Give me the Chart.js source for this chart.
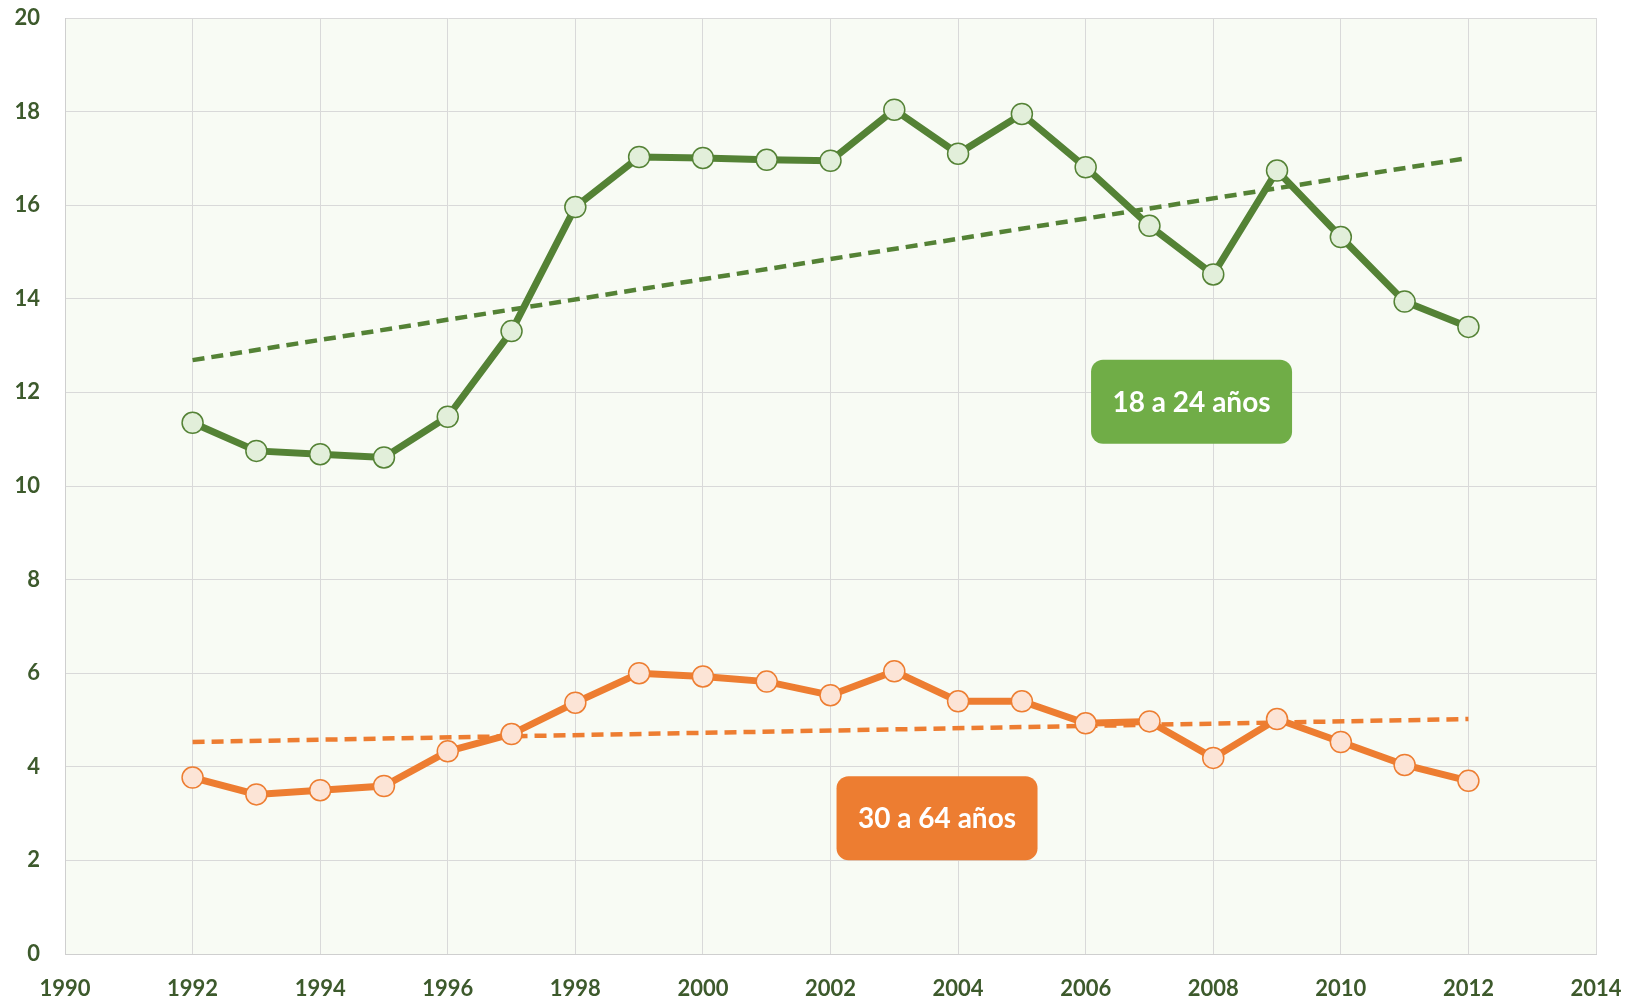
<!DOCTYPE html>
<html>
<head>
<meta charset="utf-8">
<script src="https://cdn.jsdelivr.net/npm/chart.js@4"></script>
<style>
  html, body { margin: 0; padding: 0; background: #ffffff; }
  #wrap { width: 1636px; height: 1001px; }
</style>
</head>
<body>
<div id="wrap"><canvas id="chart" width="1636" height="1001"></canvas></div>
<script>
// años
const years = [1992, 1993, 1994, 1995, 1996, 1997, 1998, 1999, 2000, 2001, 2002,
  2003, 2004, 2005, 2006, 2007, 2008, 2009, 2010, 2011, 2012];
// 18 a 24 años
const youngValues = [11.35, 10.75, 10.68, 10.61, 11.48, 13.31, 15.96, 17.03, 17.01, 16.97, 16.95,
  18.04, 17.10, 17.95, 16.81, 15.56, 14.52, 16.74, 15.32, 13.94, 13.40];
// 30 a 64 años
const adultValues = [3.77, 3.41, 3.50, 3.59, 4.33, 4.70, 5.37, 6.00, 5.93, 5.82, 5.53,
  6.04, 5.40, 5.40, 4.93, 4.97, 4.19, 5.02, 4.53, 4.04, 3.70];
// tendencias (extremos)
const trendYears = [1992, 2012];
const youngTrend = [12.69, 17.01];
const adultTrend = [4.53, 5.02];
const seriesLabels = ["18 a 24 años", "30 a 64 años"];

const GREEN = "#548235";
const ORANGE = "#ed7d31";

function pts(xs, ys) {
  return xs.map((x, i) => ({ x: x, y: ys[i] }));
}

// fondo del area de trazado
const plotBg = {
  id: "plotBg",
  beforeDraw(chart) {
    const a = chart.chartArea;
    const ctx = chart.ctx;
    ctx.save();
    ctx.fillStyle = "#f8fbf4";
    ctx.fillRect(a.left, a.top, a.right - a.left, a.bottom - a.top);
    ctx.restore();
  }
};

// cajas con el nombre de cada serie
const boxLabels = {
  id: "boxLabels",
  afterDatasetsDraw(chart) {
    const ctx = chart.ctx;
    const xs = chart.scales.x, ys = chart.scales.y;
    const boxes = [
      { text: seriesLabels[0], x: 2007.66, y: 11.8, fill: "#70ad47" },
      { text: seriesLabels[1], x: 2003.67, y: 2.9, fill: ORANGE }
    ];
    boxes.forEach(b => {
      const cx = xs.getPixelForValue(b.x);
      const cy = ys.getPixelForValue(b.y);
      const w = 201, h = 84;
      ctx.save();
      ctx.beginPath();
      ctx.roundRect(cx - w / 2, cy - h / 2, w, h, 12);
      ctx.fillStyle = b.fill;
      ctx.fill();
      ctx.fillStyle = "#ffffff";
      ctx.font = "bold 28px Lato";
      ctx.textAlign = "center";
      ctx.textBaseline = "middle";
      ctx.fillText(b.text, cx, cy + 1);
      ctx.restore();
    });
  }
};

new Chart(document.getElementById("chart"), {
  type: "line",
  data: {
    datasets: [
      {
        label: seriesLabels[0] + " tendencia",
        data: pts(trendYears, youngTrend),
        borderColor: GREEN,
        borderWidth: 4.5,
        borderDash: [12, 7],
        pointRadius: 0,
        order: 3
      },
      {
        label: seriesLabels[1] + " tendencia",
        data: pts(trendYears, adultTrend),
        borderColor: ORANGE,
        borderWidth: 4.5,
        borderDash: [12, 7],
        pointRadius: 0,
        order: 4
      },
      {
        label: seriesLabels[0],
        data: pts(years, youngValues),
        borderColor: GREEN,
        borderWidth: 7,
        pointRadius: 10.5,
        pointBackgroundColor: "#e2efda",
        pointBorderColor: GREEN,
        pointBorderWidth: 1.5,
        order: 1
      },
      {
        label: seriesLabels[1],
        data: pts(years, adultValues),
        borderColor: ORANGE,
        borderWidth: 7,
        pointRadius: 10.5,
        pointBackgroundColor: "#fce4d6",
        pointBorderColor: ORANGE,
        pointBorderWidth: 1.5,
        order: 2
      }
    ]
  },
  options: {
    responsive: false,
    animation: false,
    layout: { padding: { top: 18, right: 40, left: 0, bottom: 0 } },
    plugins: { legend: { display: false }, tooltip: { enabled: false } },
    scales: {
      x: {
        type: "linear",
        min: 1990,
        max: 2014,
        ticks: {
          stepSize: 2,
          color: "#3d5a2c",
          font: { family: "Lato", size: 22, weight: "bold" },
          padding: 22,
          callback: v => String(v)
        },
        grid: { color: "#d9d9d9", lineWidth: 1, drawTicks: false },
        border: { color: "#cfcfcf" },
        afterFit: s => {
          s.height = 47;
          s.paddingLeft = 0;
          s.paddingRight = 0;
        }
      },
      y: {
        min: 0,
        max: 20,
        ticks: {
          stepSize: 2,
          color: "#3d5a2c",
          font: { family: "Lato", size: 22, weight: "bold" },
          padding: 25
        },
        grid: { color: "#d9d9d9", lineWidth: 1, drawTicks: false },
        border: { color: "#cfcfcf" },
        afterFit: s => {
          s.width = 65;
          s.paddingTop = 0;
          s.paddingBottom = 0;
        }
      }
    }
  },
  plugins: [plotBg, boxLabels]
});
</script>
</body>
</html>
